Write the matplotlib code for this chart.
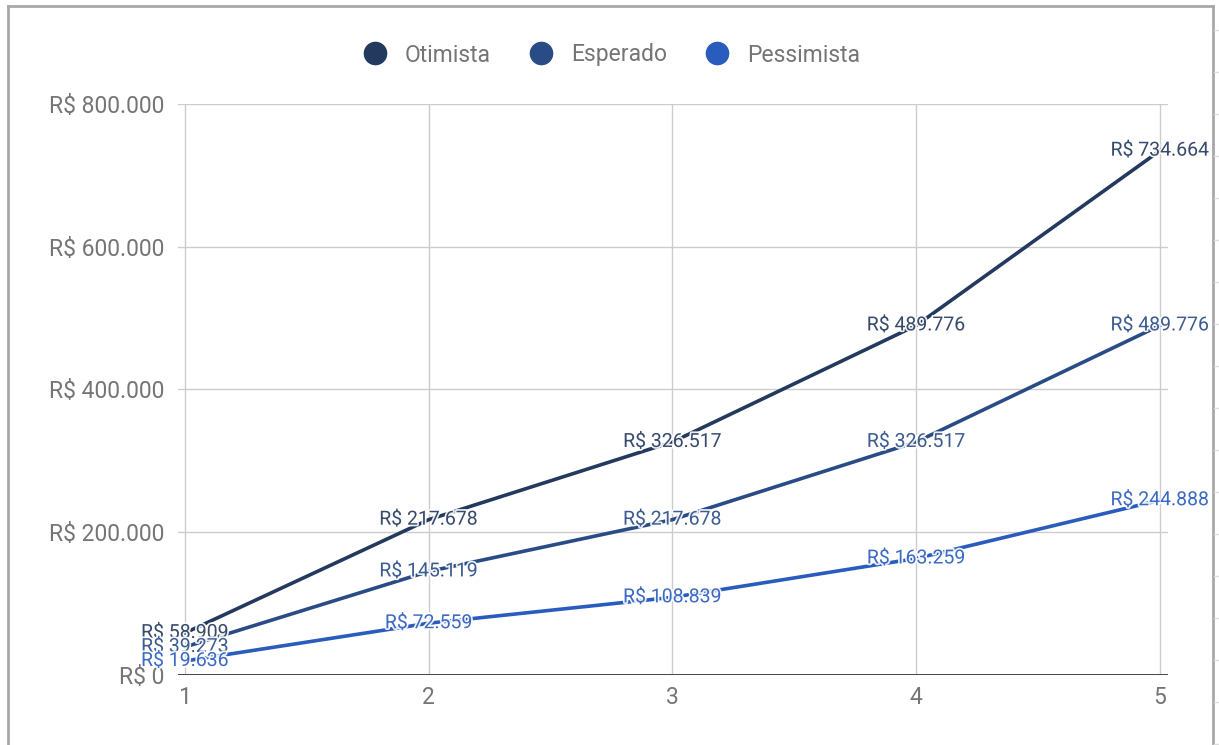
import matplotlib
matplotlib.use('Agg')
from matplotlib import pyplot as plt
from matplotlib.lines import Line2D
import matplotlib.patheffects as pe
import numpy as np

plt.rcParams['font.family'] = ['Roboto', 'DejaVu Sans']

# projection per year, three scenarios
anos = [1, 2, 3, 4, 5]
otimista = [58909, 217678, 326517, 489776, 734664]
esperado = [39273, 145119, 217678, 326517, 489776]
pessimista = [19636, 72559, 108839, 163259, 244888]
nomes = ['Otimista', 'Esperado', 'Pessimista']
cores = ['#24395e', '#2a4c86', '#2a5cbd']
yticks = [0, 200000, 400000, 600000, 800000]


def brl(v):
    return 'R$ ' + format(int(v), ',').replace(',', '.')


fig = plt.figure(figsize=(12.19, 7.45), dpi=100)
ax = fig.add_axes([178 / 1219, 70 / 745, 990 / 1219, 571 / 745])

grid = '#cccccc'
for s in ax.spines.values():
    s.set_visible(False)
ax.set_xlim(1 - 7 / 243.75, 5 + 8 / 243.75)
ax.set_ylim(0, 800000)
ax.set_xticks(anos)
ax.set_yticks(yticks)
ax.set_yticklabels([brl(v) for v in yticks])
ax.tick_params(length=0, colors='#757575', labelsize=16.5)
ax.tick_params(axis='y', pad=10)
ax.tick_params(axis='x', pad=8)
ax.grid(True, color=grid, linewidth=1)
ax.axhline(0, color='#444444', linewidth=1.4, zorder=2)

for serie, nome, cor in zip([otimista, esperado, pessimista], nomes, cores):
    ax.plot(anos, serie, color=cor, linewidth=2.6, zorder=3, label=nome)
    for x, y in zip(anos, serie):
        ax.text(x, y, brl(y), color=cor, fontsize=14, ha='center', va='center',
                zorder=4, alpha=0.9,
                path_effects=[pe.withStroke(linewidth=2.5, foreground='white')])

handles = [Line2D([], [], marker='o', linestyle='none', markersize=16,
                  markerfacecolor=c, markeredgecolor=c) for c in cores]
leg = fig.legend(handles, nomes, loc='center', bbox_to_anchor=(606 / 1219, 1 - 55 / 745),
                 ncol=3, frameon=False, fontsize=16.5, handletextpad=0.3,
                 columnspacing=1.2)
for t in leg.get_texts():
    t.set_color('#757575')

# outer frame
borda = '#a8a8a8'
fig.add_artist(Line2D([8 / 1219, 1213 / 1219], [1 - 6 / 745, 1 - 6 / 745], color=borda, linewidth=2))
fig.add_artist(Line2D([8 / 1219, 8 / 1219], [0, 1 - 6 / 745], color=borda, linewidth=2))
fig.add_artist(Line2D([1213 / 1219, 1213 / 1219], [0, 1 - 6 / 745], color=borda, linewidth=2))
for yp in np.arange(30, 745, 42):
    fig.add_artist(Line2D([1214 / 1219, 1219 / 1219], [1 - yp / 745, 1 - yp / 745],
                          color='#dddddd', linewidth=1))

fig.savefig('out.png', dpi=100, facecolor='white')
